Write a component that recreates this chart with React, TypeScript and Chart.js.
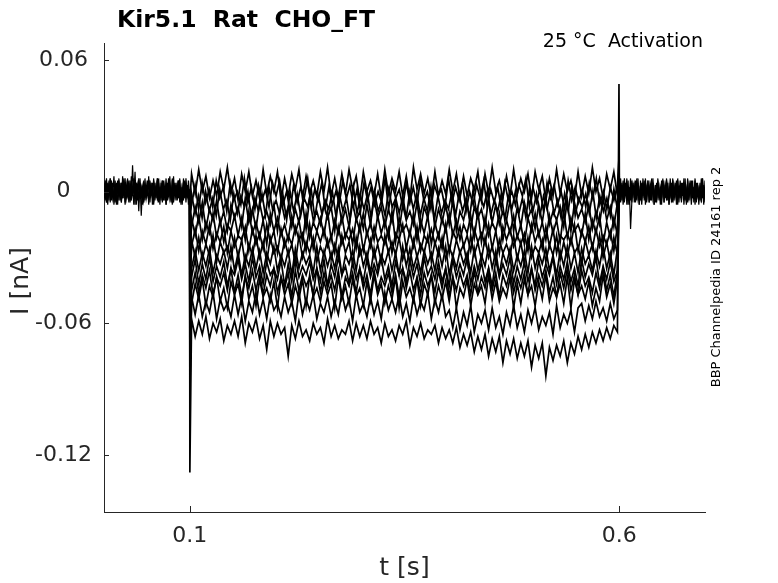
import React, { useEffect, useRef } from "react";
import { Chart, registerables } from "chart.js";

Chart.register(...registerables);

// text
const TITLE = "Kir5.1  Rat  CHO_FT";
const SUBTITLE = "25 °C  Activation";
const SIDE_NOTE = "BBP Channelpedia ID 24161 rep 2";
const X_LABEL = "t [s]";
const Y_LABEL = "I [nA]";

// axes (s, nA)
const X_TICKS = [0.1, 0.6];
const X_TICK_LABELS = ["0.1", "0.6"];
const Y_TICKS = [-0.12, -0.06, 0, 0.06];
const Y_TICK_LABELS = ["-0.12", "-0.06", "0", "0.06"];

// protocol timing (s)
const STEP_ON = 0.1;
const STEP_OFF = 0.6;
const STEP_START = 0.102;
const STEP_END = 0.598;

// current during the step, one array per sweep, in pA
const SWEEP_01 = [8,-1,10,0,7,-3,5,-2,9,1,11,-1,6,-4,8,0,9,-2,5,-3,10,-1,7,0,9,-4,6,-2,8,1,10,-3,7,-1,5,-2,9,0,11,-2,6,-3,8,-1,10,1,7,-4,9,0,5,-2,8,-3,10,-1,6,0,9,-2,7,-4,11,1,8,-1,6,-3,9,-2,5,-1,10,0,8,-3,7,-2,6,1,9,-4,8,-1,11,0,5,-3,7,-2,10,-1,6,0,8,-3,9,1,7,-4,6,-2,10,-1,8,0,5,-3,9,-2,7,-1,11,0,6,-3,8,1,9,-2];
const SWEEP_02 = [-6,3,-8,4,-5,1,-7,5,-3,2,-9,4,-4,0,-6,6,-5,2,-8,3,-4,1,-7,4,-2,5,-6,0,-9,3,-5,2,-3,6,-7,1,-4,4,-8,2,-6,0,-5,5,-3,3,-7,1,-9,4,-4,2,-6,0,-5,6,-8,3,-3,1,-7,4,-5,2,-6,5,-4,0,-8,3,-2,1,-7,6,-5,2,-4,4,-9,0,-6,3,-3,5,-7,1,-5,2,-8,4,-4,0,-6,3,-2,6,-7,2,-5,1,-9,4,-3,3,-6,0,-8,5,-4,2,-5,1,-7,4,-3,6,-6,0,-8,2,-4,3];
const SWEEP_03 = [-1,-10,-2,-12,0,-9,-3,-11,1,-8,-4,-13,-1,-10,-2,-7,0,-12,-3,-9,-1,-11,2,-8,-4,-10,-2,-13,0,-9,-1,-11,-3,-7,1,-12,-2,-10,-4,-8,0,-11,-1,-9,-3,-13,2,-10,-2,-8,-1,-12,0,-9,-4,-11,1,-7,-3,-10,-2,-12,0,-8,-1,-11,-3,-9,2,-13,-2,-10,-4,-8,0,-11,-1,-9,-3,-12,1,-10,-2,-7,0,-11,-4,-9,-1,-13,-2,-8,0,-10,-3,-12,1,-9,-1,-11,-2,-8,0,-10,-4,-12,-1,-9,2,-11,-3,-7,-1,-10,0,-12,-2,-9,-3,-11,1,-8];
const SWEEP_04 = [-16,-7,-14,-5,-17,-8,-13,-4,-15,-9,-18,-6,-12,-7,-16,-3,-14,-8,-17,-5,-13,-9,-15,-6,-18,-4,-12,-7,-16,-8,-14,-5,-17,-3,-13,-9,-15,-6,-12,-7,-18,-4,-14,-8,-16,-5,-13,-9,-17,-6,-15,-3,-12,-7,-16,-8,-14,-4,-18,-6,-13,-9,-15,-5,-17,-7,-12,-3,-16,-8,-14,-6,-15,-4,-18,-9,-13,-5,-17,-7,-12,-8,-16,-3,-14,-6,-15,-9,-13,-4,-18,-7,-16,-5,-12,-8,-17,-6,-14,-3,-15,-9,-13,-7,-16,-4,-18,-5,-12,-8,-14,-6,-17,-9,-15,-3,-13,-7,-16,-5];
const SWEEP_05 = [-12,-20,-11,-22,-14,-19,-10,-21,-13,-23,-15,-18,-11,-20,-12,-22,-9,-19,-14,-21,-13,-24,-10,-18,-12,-20,-15,-22,-11,-19,-13,-23,-10,-21,-14,-18,-12,-20,-9,-22,-13,-19,-11,-21,-15,-24,-12,-18,-10,-20,-14,-22,-11,-19,-13,-21,-9,-23,-12,-18,-15,-20,-10,-22,-13,-19,-11,-24,-14,-21,-12,-18,-10,-20,-13,-22,-15,-19,-11,-21,-9,-23,-12,-20,-14,-18,-10,-22,-13,-19,-11,-21,-15,-24,-12,-18,-10,-20,-14,-22,-11,-19,-13,-23,-9,-21,-12,-18,-15,-20,-10,-22,-13,-19,-11,-24,-14,-21,-12,-20];
const SWEEP_06 = [-25,-17,-27,-18,-24,-15,-26,-19,-23,-16,-28,-18,-25,-20,-22,-16,-27,-17,-24,-19,-26,-15,-23,-18,-28,-17,-25,-20,-24,-16,-22,-19,-27,-15,-26,-18,-23,-17,-25,-20,-28,-16,-24,-19,-22,-17,-26,-15,-27,-18,-25,-16,-23,-20,-24,-17,-28,-19,-22,-15,-26,-18,-25,-16,-27,-20,-23,-17,-24,-19,-26,-15,-28,-18,-22,-16,-25,-20,-27,-17,-23,-19,-24,-15,-26,-18,-28,-16,-22,-17,-25,-20,-24,-19,-27,-15,-23,-18,-26,-16,-25,-17,-28,-20,-22,-19,-24,-15,-27,-18,-23,-16,-26,-17,-25,-20,-24,-18,-27,-16];
const SWEEP_07 = [-22,-30,-21,-31,-24,-29,-20,-32,-23,-28,-25,-31,-21,-30,-22,-33,-24,-29,-20,-30,-23,-32,-21,-28,-25,-31,-22,-29,-24,-33,-20,-30,-23,-28,-21,-32,-25,-29,-22,-31,-24,-30,-20,-28,-23,-33,-21,-29,-25,-31,-22,-30,-24,-32,-20,-28,-23,-29,-21,-31,-25,-33,-22,-30,-24,-28,-20,-32,-23,-29,-21,-31,-25,-30,-22,-28,-24,-33,-20,-29,-23,-31,-21,-30,-25,-32,-22,-28,-24,-29,-20,-31,-23,-33,-21,-30,-25,-28,-22,-32,-24,-29,-20,-31,-23,-30,-21,-28,-25,-33,-22,-29,-24,-31,-20,-30,-23,-32,-21,-29];
const SWEEP_08 = [-35,-27,-36,-28,-34,-26,-37,-29,-33,-27,-35,-25,-36,-28,-38,-29,-34,-26,-35,-27,-37,-28,-33,-25,-36,-29,-34,-27,-38,-26,-35,-28,-33,-29,-37,-25,-36,-27,-34,-28,-35,-26,-38,-29,-33,-27,-36,-25,-34,-28,-37,-26,-35,-29,-33,-27,-36,-28,-38,-25,-34,-26,-35,-29,-37,-27,-33,-28,-36,-26,-34,-25,-38,-29,-35,-27,-33,-28,-37,-26,-36,-29,-34,-25,-35,-27,-38,-28,-33,-26,-36,-29,-34,-27,-37,-25,-35,-28,-33,-26,-36,-29,-38,-27,-34,-25,-35,-28,-37,-26,-33,-29,-36,-27,-34,-25,-35,-28,-38,-26];
const SWEEP_09 = [-39,-31,-42,-33,-40,-30,-41,-34,-39,-32,-43,-35,-38,-31,-40,-33,-41,-30,-39,-34,-42,-32,-38,-35,-40,-31,-43,-33,-41,-30,-39,-34,-38,-32,-40,-35,-41,-31,-43,-33,-39,-30,-38,-34,-42,-32,-40,-35,-41,-31,-39,-33,-38,-30,-40,-34,-43,-32,-38,-35,-41,-31,-39,-33,-42,-30,-38,-34,-40,-32,-41,-35,-43,-31,-39,-33,-38,-30,-42,-34,-40,-32,-41,-35,-43,-31,-39,-33,-38,-30,-42,-34,-40,-32,-41,-35,-43,-31,-39,-33,-38,-30,-42,-34,-40,-32,-41,-35,-43,-31,-39,-33,-38,-30,-42,-34,-40,-32,-41,-36];
const SWEEP_10 = [-45,-37,-46,-38,-44,-36,-47,-39,-43,-37,-45,-35,-46,-38,-48,-39,-44,-36,-45,-37,-47,-38,-43,-35,-46,-39,-44,-37,-48,-36,-45,-38,-43,-39,-47,-35,-46,-37,-44,-38,-45,-36,-48,-39,-43,-37,-46,-35,-44,-38,-47,-36,-45,-39,-43,-37,-46,-38,-48,-35,-44,-36,-45,-39,-47,-37,-43,-38,-46,-36,-44,-35,-48,-39,-45,-37,-43,-38,-47,-36,-46,-39,-44,-35,-45,-37,-48,-38,-43,-36,-46,-39,-44,-37,-47,-35,-45,-38,-43,-36,-46,-39,-48,-37,-44,-35,-45,-38,-47,-36,-43,-39,-46,-37,-44,-35,-45,-38,-48,-36];
const SWEEP_11 = [-51,-42,-49,-40,-52,-43,-48,-39,-50,-44,-53,-41,-47,-42,-51,-38,-49,-43,-52,-40,-48,-44,-50,-41,-53,-39,-47,-42,-51,-43,-49,-40,-52,-38,-48,-44,-50,-41,-47,-42,-53,-39,-49,-43,-51,-40,-48,-44,-52,-41,-50,-38,-47,-42,-51,-43,-49,-39,-53,-41,-48,-44,-50,-40,-52,-42,-47,-38,-51,-43,-49,-41,-50,-39,-53,-44,-48,-40,-52,-42,-47,-43,-51,-38,-49,-41,-50,-44,-48,-39,-53,-42,-51,-40,-47,-43,-52,-41,-49,-38,-50,-44,-48,-42,-51,-39,-53,-40,-47,-43,-49,-41,-52,-44,-50,-38,-48,-42,-51,-40];
const SWEEP_12 = [-48,-56,-47,-57,-50,-55,-46,-58,-49,-54,-51,-57,-47,-56,-48,-59,-50,-55,-46,-56,-49,-58,-47,-54,-51,-57,-48,-55,-50,-59,-46,-56,-49,-54,-47,-58,-51,-55,-48,-57,-50,-56,-46,-54,-49,-59,-47,-55,-51,-57,-48,-56,-50,-58,-46,-54,-49,-55,-47,-57,-51,-59,-48,-56,-50,-54,-46,-58,-49,-55,-47,-57,-54,-62,-53,-63,-55,-61,-52,-64,-56,-60,-54,-63,-53,-62,-57,-65,-55,-61,-52,-62,-56,-64,-54,-60,-53,-63,-57,-61,-55,-65,-52,-62,-56,-60,-54,-64,-53,-51,-59,-52,-58,-50,-57,-53,-59,-51,-58,-54];
const SWEEP_13 = [-58,-66,-59,-65,-57,-67,-60,-64,-58,-68,-61,-65,-59,-66,-57,-69,-60,-64,-58,-67,-61,-72,-59,-66,-60,-65,-62,-75,-61,-67,-59,-66,-63,-68,-60,-65,-62,-69,-58,-66,-61,-67,-63,-65,-59,-68,-60,-66,-61,-67,-59,-65,-62,-69,-60,-66,-63,-68,-61,-65,-59,-70,-62,-66,-60,-67,-63,-65,-61,-69,-62,-67,-63,-69,-62,-71,-65,-70,-64,-73,-66,-72,-65,-75,-67,-73,-66,-78,-68,-74,-67,-76,-69,-75,-68,-80,-70,-76,-69,-84,-71,-77,-70,-75,-68,-78,-69,-74,-66,-72,-65,-71,-64,-69,-63,-68,-62,-67,-61,-64];

const SWEEPS = [SWEEP_01, SWEEP_02, SWEEP_03, SWEEP_04, SWEEP_05, SWEEP_06, SWEEP_07, SWEEP_08, SWEEP_09, SWEEP_10, SWEEP_11, SWEEP_12, SWEEP_13];
// capacitive transients at step on / off, pA
const ON_SPIKE = [-4, -10, -18, -26, -34, -42, -50, -58, -66, -74, -82, -92, -128];
const OFF_SPIKE = [10, 15, 6, 4, 2, 1, 0, -1, -2, -3, -4, -5, 49];

// holding current before and after the step, pA
const PRE_1 = [4,-3,6,-2,5,-5,3,-1,7,-4,2,-6,5,-2,4,-3,6,-5,3,-1,5,-4,7,-2,3,-6,4,-3,6,-1,2,-5,5,-4,3,-2,7,-3,4,-6,5,-1,3,-4,6,-2,4,-5,2,-3,6,-4,5,-1,3,-6,7,-2,4,-3,5,-5,2,-4,6,-1,3,-3,5,-2];
const PRE_2 = [-3,5,-5,2,-4,6,-1,4,-6,3,-2,5,-4,1,-5,7,-3,4,-2,6,-5,2,-4,12,-1,9,-6,3,-9,4,-11,2,-5,6,-3,1,-4,5,-2,3,-6,4,-1,6,-5,2,-3,5,-4,1,-6,3,-2,7,-4,2,-5,4,-1,3,-3,6,-5,2,-4,5,-2,3,-6,1];
const PRE_3 = [1,-4,3,-6,2,-2,5,-3,1,-5,4,-1,6,-4,2,-3,5,-6,1,-2,4,-5,3,-1,6,-3,2,-4,5,-2,1,-6,4,-3,3,-1,5,-5,2,-2,6,-4,1,-3,4,-6,3,-1,5,-4,2,-2,6,-3,1,-5,4,-2,3,-4,5,-1,2,-6,4,-3,6,-2,1,-4];
const PRE_4 = [-1,3,-5,4,-2,6,-4,1,-3,5,-6,2,-1,4,-5,3,-2,6,-3,1,-4,5,-2,2,-6,4,-1,3,-5,6,-3,2,-4,1,-2,5,-6,3,-1,4,-5,2,-3,6,-2,1,-4,5,-1,3,-6,4,-2,2,-5,6,-3,1,-4,3,-1,5,-6,2,-2,4,-5,3,-3,1];
const POST_1 = [5,-2,4,-6,3,-1,6,-4,2,-17,-5,3,-3,5,-2,4,-6,1,-3,6,-4,2,-1,5,-5,3,-2,4,-6,1,-3,6,-4,2,-1,5,-5,3,-2,4,-6,1,-3,6,-4,2,-1,5,-5,3,-2,4,-6,1,-3,6,-4,2,-1,5,-5,3,-2,4,-6,1,-3,6,-4,2];
const POST_2 = [-2,6,-4,3,-5,1,-3,5,-6,2,-1,4,-5,3,-2,6,-4,1,-6,4,-3,2,-5,5,-1,3,-4,6,-2,1,-5,4,-3,2,-6,5,-1,3,-4,1,-2,6,-5,3,-3,4,-6,2,-1,5,-4,3,-2,6,-5,1,-3,4,-6,2,-1,5,-4,3,-2,1,-5,6,-3,2];
const POST_3 = [3,-5,1,-3,6,-2,4,-6,2,-4,5,-1,3,-5,6,-3,1,-4,4,-2,5,-6,2,-1,3,-4,6,-3,1,-5,4,-2,2,-6,5,-1,3,-3,6,-4,1,-2,4,-5,3,-1,5,-6,2,-3,4,-2,6,-4,1,-5,3,-1,5,-3,2,-6,4,-2,1,-4,6,-3,3,-5];
const POST_4 = [-4,2,-1,5,-3,4,-6,1,-2,6,-5,3,-1,4,-4,2,-6,5,-3,1,-2,6,-4,3,-5,2,-1,4,-6,3,-3,5,-2,1,-4,6,-5,2,-1,3,-6,4,-2,5,-3,1,-4,6,-1,2,-5,3,-3,4,-6,1,-2,5,-4,2,-1,6,-5,3,-2,4,-3,1,-6,5];
const PRE = [PRE_1, PRE_2, PRE_3, PRE_4];
const POST = [POST_1, POST_2, POST_3, POST_4];

const AXIS_COLOR = "#262626";
const FONT = '"DejaVu Sans", Verdana, sans-serif';

type Pt = { x: number; y: number };

const sampled = (vals: number[], t0: number, t1: number): Pt[] => {
  const dt = (t1 - t0) / (vals.length - 1);
  return vals.map((v, k) => ({ x: t0 + k * dt, y: v / 1000 }));
};

const sweepPoints = (i: number): Pt[] => [
  { x: STEP_ON - 0.0002, y: 0 },
  { x: STEP_ON, y: ON_SPIKE[i] / 1000 },
  ...sampled(SWEEPS[i], STEP_START, STEP_END),
  { x: STEP_OFF - 0.0002, y: OFF_SPIKE[i] / 1000 },
  { x: STEP_OFF + 0.0003, y: 0 },
];

const trace = (data: Pt[], width: number) => ({
  data,
  borderColor: "#000",
  borderWidth: width,
  pointRadius: 0,
  fill: false,
  tension: 0,
});

// inward ticks + free text
const decorations = {
  id: "decorations",
  afterDraw(chart: any) {
    const { ctx, chartArea, scales } = chart;
    ctx.save();
    ctx.strokeStyle = AXIS_COLOR;
    ctx.lineWidth = 1;
    ctx.beginPath();
    Y_TICKS.forEach((v) => {
      const y = Math.round(scales.y.getPixelForValue(v)) + 0.5;
      ctx.moveTo(chartArea.left, y);
      ctx.lineTo(chartArea.left + 5, y);
    });
    X_TICKS.forEach((v) => {
      const x = Math.round(scales.x.getPixelForValue(v)) + 0.5;
      ctx.moveTo(x, chartArea.bottom);
      ctx.lineTo(x, chartArea.bottom - 6);
    });
    ctx.stroke();

    ctx.fillStyle = "#000";
    ctx.textBaseline = "alphabetic";
    ctx.font = `bold 23.5px ${FONT}`;
    ctx.textAlign = "left";
    ctx.fillText(TITLE, 117, 27);

    ctx.font = `19px ${FONT}`;
    ctx.textAlign = "right";
    ctx.fillText(SUBTITLE, 703, 47);

    ctx.fillStyle = AXIS_COLOR;
    ctx.font = `25px ${FONT}`;
    ctx.textAlign = "center";
    ctx.fillText(X_LABEL, (chartArea.left + chartArea.right) / 2, 575);

    ctx.save();
    ctx.translate(28, 281);
    ctx.rotate(-Math.PI / 2);
    ctx.fillText(Y_LABEL, 0, 0);
    ctx.restore();

    ctx.fillStyle = "#000";
    ctx.save();
    ctx.translate(720, 277);
    ctx.rotate(-Math.PI / 2);
    ctx.font = `13px ${FONT}`;
    ctx.fillText(SIDE_NOTE, 0, 0);
    ctx.restore();
    ctx.restore();
  },
};

const App: React.FC = () => {
  const canvasRef = useRef<HTMLCanvasElement | null>(null);
  const chartRef = useRef<Chart | null>(null);

  useEffect(() => {
    if (!canvasRef.current) return;

    const datasets = [
      ...PRE.map((vals) => trace(sampled(vals, 0, STEP_ON - 0.0002), 1.2)),
      ...POST.map((vals) => trace(sampled(vals, STEP_OFF + 0.0003, 0.7), 1.2)),
      ...SWEEPS.map((_, i) => trace(sweepPoints(i), 1.7)),
    ];

    chartRef.current = new Chart(canvasRef.current, {
      type: "line",
      data: { datasets },
      options: {
        responsive: false,
        animation: false,
        parsing: false,
        normalized: true,
        layout: { padding: { left: 0, top: 43, right: 73, bottom: 0 } },
        plugins: { legend: { display: false }, tooltip: { enabled: false }, title: { display: false } },
        scales: {
          x: {
            type: "linear",
            min: 0,
            max: 0.7,
            afterFit: (s: any) => {
              s.height = 71;
            },
            afterBuildTicks: (s: any) => {
              s.ticks = X_TICKS.map((value) => ({ value }));
            },
            grid: { display: false, drawTicks: false },
            border: { display: true, color: AXIS_COLOR, width: 1 },
            ticks: {
              autoSkip: false,
              maxRotation: 0,
              padding: 11,
              color: AXIS_COLOR,
              font: { family: FONT, size: 22 },
              callback: (v: any) => X_TICK_LABELS[X_TICKS.indexOf(Number(v))] ?? "",
            },
          },
          y: {
            type: "linear",
            min: -0.146,
            max: 0.0677,
            afterFit: (s: any) => {
              s.width = 104;
            },
            afterBuildTicks: (s: any) => {
              s.ticks = Y_TICKS.map((value) => ({ value }));
            },
            grid: { display: false, drawTicks: false },
            border: { display: true, color: AXIS_COLOR, width: 1 },
            ticks: {
              autoSkip: false,
              crossAlign: "center",
              padding: 12,
              color: AXIS_COLOR,
              font: { family: FONT, size: 22 },
              callback: (v: any) => Y_TICK_LABELS[Y_TICKS.indexOf(Number(v))] ?? "",
            },
          },
        },
      },
      plugins: [decorations],
    });

    return () => chartRef.current?.destroy();
  }, []);

  return (
    <div style={{ position: "fixed", left: 0, top: 0, width: 778, height: 583, background: "#fff" }}>
      <canvas ref={canvasRef} width={778} height={583} />
    </div>
  );
};

export default App;
